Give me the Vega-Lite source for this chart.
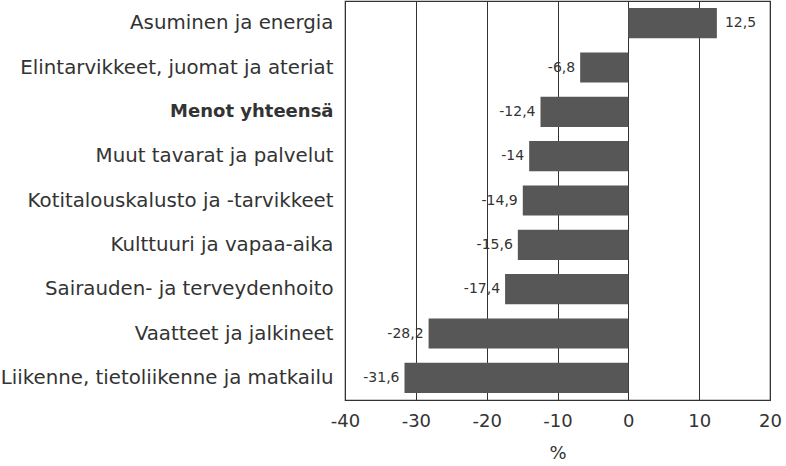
{
  "$schema": "https://vega.github.io/schema/vega-lite/v6.json",
  "autosize": "none",
  "width": 425,
  "height": 399,
  "padding": {"left": 345, "top": 1, "right": 16, "bottom": 66},
  "background": "white",
  "config": {
    "view": {"stroke": "#333", "strokeWidth": 1.2},
    "font": "DejaVu Sans"
  },
  "data": {
    "values": [
      {"category": "Asuminen ja energia", "value": 12.5, "label": "12,5"},
      {"category": "Elintarvikkeet, juomat ja ateriat", "value": -6.8, "label": "-6,8"},
      {"category": "Menot yhteensä", "value": -12.4, "label": "-12,4"},
      {"category": "Muut tavarat ja palvelut", "value": -14, "label": "-14"},
      {"category": "Kotitalouskalusto ja -tarvikkeet", "value": -14.9, "label": "-14,9"},
      {"category": "Kulttuuri ja vapaa-aika", "value": -15.6, "label": "-15,6"},
      {"category": "Sairauden- ja terveydenhoito", "value": -17.4, "label": "-17,4"},
      {"category": "Vaatteet ja jalkineet", "value": -28.2, "label": "-28,2"},
      {"category": "Liikenne, tietoliikenne ja matkailu", "value": -31.6, "label": "-31,6"}
    ]
  },
  "encoding": {
    "y": {
      "field": "category",
      "type": "nominal",
      "sort": null,
      "scale": {"paddingInner": 0.32, "paddingOuter": 0.16},
      "axis": {
        "title": null,
        "ticks": false,
        "domain": false,
        "labelFontSize": {"condition": {"test": "datum.value == 'Menot yhteensä'", "value": 18}, "value": 19.8},
        "labelColor": "#333",
        "labelPadding": 12,
        "labelLimit": 400,
        "labelFontWeight": {"condition": {"test": "datum.value == 'Menot yhteensä'", "value": "bold"}, "value": "normal"}
      }
    }
  },
  "layer": [
    {
      "mark": {"type": "bar", "color": "#575757"},
      "encoding": {
        "x": {
          "field": "value",
          "type": "quantitative",
          "scale": {"domain": [-40, 20], "nice": false},
          "axis": {
            "title": "%",
            "titleFontSize": 18,
            "titleFontWeight": "normal",
            "titleColor": "#333",
            "titlePadding": 14,
            "values": [-40, -30, -20, -10, 0, 10, 20],
            "labelExpr": "replace(datum.label, '−', '-')",
            "labelFontSize": 18,
            "labelColor": "#333",
            "labelPadding": 12,
            "ticks": false,
            "domain": false,
            "grid": true,
            "gridColor": "#333",
            "gridWidth": 1,
            "gridOpacity": 1,
            "labelFlush": false
          }
        }
      }
    },
    {
      "transform": [{"filter": "datum.value < 0"}],
      "mark": {"type": "text", "align": "right", "dx": -5, "fontSize": 14, "color": "#333"},
      "encoding": {
        "x": {"field": "value", "type": "quantitative"},
        "text": {"field": "label"}
      }
    },
    {
      "transform": [{"filter": "datum.value >= 0"}],
      "mark": {"type": "text", "align": "left", "dx": 8, "fontSize": 14, "color": "#333"},
      "encoding": {
        "x": {"field": "value", "type": "quantitative"},
        "text": {"field": "label"}
      }
    }
  ]
}
